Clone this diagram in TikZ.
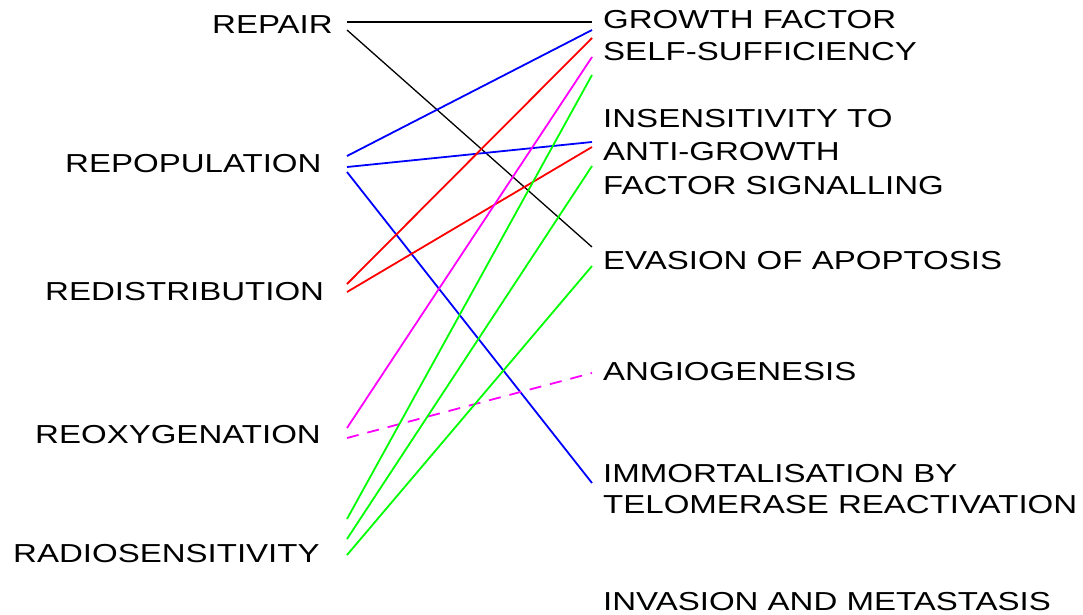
\documentclass[tikz,border=0pt]{standalone}
\usepackage{fontspec}
\setmainfont{Liberation Sans}
\definecolor{lnmag}{RGB}{255,0,255}
\definecolor{lngreen}{RGB}{0,255,0}
\definecolor{lnblue}{RGB}{0,0,255}
\definecolor{lnred}{RGB}{255,0,0}
\newcommand{\widetxt}[1]{\scalebox{1.27}[1]{#1}}
\begin{document}
\begin{tikzpicture}[x=1pt,y=-1pt,
  lbl/.style={inner sep=0pt, anchor=base west, font=\fontsize{26}{30}\selectfont, text=black},
  conn/.style={line width=1.8pt},
  thin conn/.style={line width=1.3pt}]
\useasboundingbox[fill=white] (0,0) rectangle (1083,614);
% left labels
\node[lbl] (repair) at (212,33) {\widetxt{REPAIR}};
\node[lbl] (repop) at (65,172) {\widetxt{REPOPULATION}};
\node[lbl] (redist) at (45,300) {\widetxt{REDISTRIBUTION}};
\node[lbl] (reoxy) at (35,443) {\widetxt{REOXYGENATION}};
\node[lbl] (radio) at (13,562) {\widetxt{RADIOSENSITIVITY}};
% right labels
\node[lbl] (gf1) at (603,28) {\widetxt{GROWTH FACTOR}};
\node[lbl] (gf2) at (603,60) {\widetxt{SELF-SUFFICIENCY}};
\node[lbl] (ins1) at (603,127) {\widetxt{INSENSITIVITY TO}};
\node[lbl] (ins2) at (603,160) {\widetxt{ANTI-GROWTH}};
\node[lbl] (ins3) at (603,194) {\widetxt{FACTOR SIGNALLING}};
\node[lbl] (evas) at (603,269) {\widetxt{EVASION OF APOPTOSIS}};
\node[lbl] (angio) at (603,380) {\widetxt{ANGIOGENESIS}};
\node[lbl] (imm1) at (603,482) {\widetxt{IMMORTALISATION BY}};
\node[lbl] (imm2) at (603,513) {\widetxt{TELOMERASE REACTIVATION}};
\node[lbl] (inv) at (603,610) {\widetxt{INVASION AND METASTASIS}};
% ports (left)
\coordinate (pRepA) at (347,22);
\coordinate (pRepB) at (347,30);
\coordinate (pPopA) at (347,156);
\coordinate (pPopB) at (347,167);
\coordinate (pPopC) at (347,172);
\coordinate (pRedA) at (347,284);
\coordinate (pRedB) at (347,292);
\coordinate (pOxyA) at (347,428);
\coordinate (pOxyB) at (347,438);
\coordinate (pRadA) at (347,519);
\coordinate (pRadB) at (347,539);
\coordinate (pRadC) at (347,555);
% ports (right)
\coordinate (qGFk) at (592,22);
\coordinate (qGFb) at (592,30);
\coordinate (qGFr) at (592,38);
\coordinate (qGFm) at (592,57);
\coordinate (qGFg) at (592,75);
\coordinate (qInsb) at (592,142);
\coordinate (qInsr) at (592,147);
\coordinate (qInsg) at (592,166);
\coordinate (qEvk) at (592,247);
\coordinate (qEvg) at (592,266);
\coordinate (qAng) at (592,373);
\coordinate (qImm) at (592,483);
% connectors
\draw[conn, black] (pRepA) -- (qGFk);
\draw[thin conn, black] (pRepB) -- (qEvk);
\draw[conn, lnblue] (pPopA) -- (qGFb);
\draw[conn, lnblue] (pPopB) -- (qInsb);
\draw[conn, lnblue] (pPopC) -- (qImm);
\draw[conn, lnred] (pRedA) -- (qGFr);
\draw[conn, lnred] (pRedB) -- (qInsr);
\draw[conn, lnmag] (pOxyA) -- (qGFm);
\draw[conn, lnmag, dash pattern=on 12pt off 9pt] (pOxyB) -- (qAng);
\draw[conn, lngreen] (pRadA) -- (qGFg);
\draw[conn, lngreen] (pRadB) -- (qInsg);
\draw[conn, lngreen] (pRadC) -- (qEvg);
\end{tikzpicture}
\end{document}
